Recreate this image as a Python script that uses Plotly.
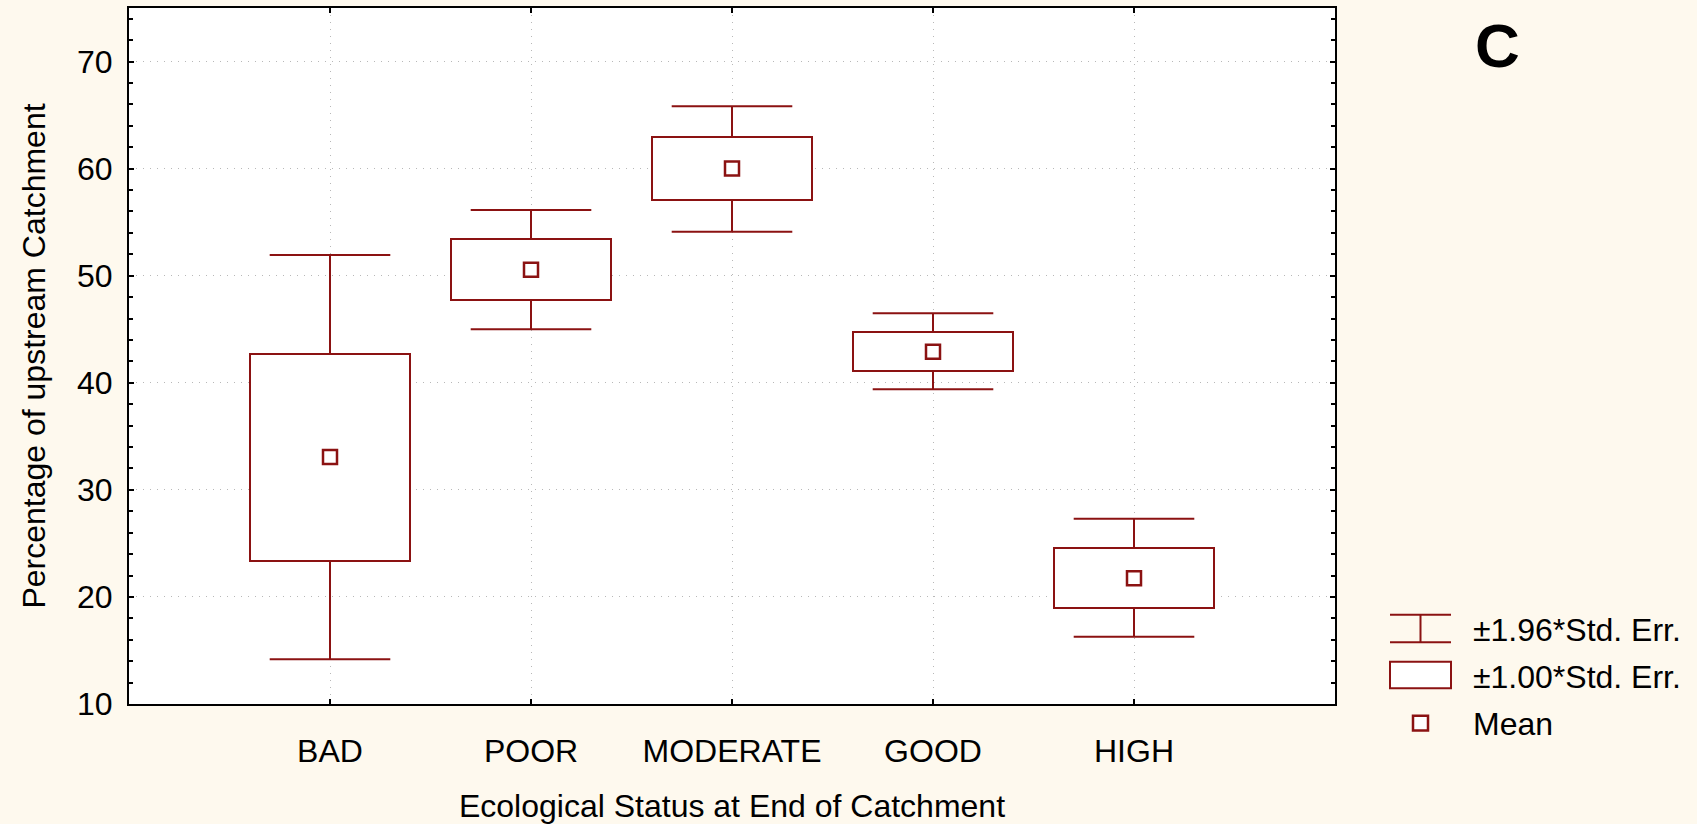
import plotly.graph_objects as go

# ---- data ----
categories = ["BAD", "POOR", "MODERATE", "GOOD", "HIGH"]
means = [33.07, 50.56, 60.0, 42.9, 21.74]
box_low = [23.39, 47.75, 57.03, 41.1, 18.96]      # mean - 1.00*SE
box_high = [42.68, 53.42, 62.95, 44.7, 24.6]      # mean + 1.00*SE
whisker_low = [14.17, 45.0, 54.1, 39.4, 16.27]    # mean - 1.96*SE
whisker_high = [51.93, 56.14, 65.82, 46.5, 27.3]  # mean + 1.96*SE
y_ticks = [10, 20, 30, 40, 50, 60, 70]

# ---- styles ----
RED = "#8B1212"
BG = "#FEF9EE"
FONT = "Liberation Sans, Arial, sans-serif"
W, H = 1697, 824
L, R, T, B = 129, 1335, 6, 715

xpos = list(range(len(categories)))

fig = go.Figure()

# boxes (+-1 SE)
fig.add_trace(go.Bar(
    x=xpos,
    y=[h - l for h, l in zip(box_high, box_low)],
    base=box_low,
    width=0.8,
    marker=dict(color="white", line=dict(color=RED, width=2)),
    hoverinfo="skip",
    showlegend=False,
))

# whiskers (+-1.96 SE)
wx, wy = [], []
cap = 0.3
for i in xpos:
    wx += [i, i, None, i - cap, i + cap, None]
    wy += [box_high[i], whisker_high[i], None, whisker_high[i], whisker_high[i], None]
    wx += [i, i, None, i - cap, i + cap, None]
    wy += [box_low[i], whisker_low[i], None, whisker_low[i], whisker_low[i], None]
fig.add_trace(go.Scatter(
    x=wx, y=wy, mode="lines",
    line=dict(color=RED, width=2),
    hoverinfo="skip", showlegend=False,
))

# means
fig.add_trace(go.Scatter(
    x=xpos, y=means, mode="markers",
    marker=dict(symbol="square", size=14, color="white",
                line=dict(color=RED, width=2.5)),
    showlegend=False,
))

axis_common = dict(
    showline=True, linecolor="black", linewidth=2, mirror="allticks",
    ticks="inside", tickcolor="black", tickwidth=1.5, ticklen=5,
    showgrid=True, gridcolor="#B8B8B8", griddash="1px,6px", gridwidth=1,
    zeroline=False,
    tickfont=dict(family=FONT, size=32, color="black"),
)

fig.update_layout(
    width=W, height=H,
    paper_bgcolor=BG, plot_bgcolor="white",
    margin=dict(l=L, r=W - R, t=T, b=H - B, pad=0),
    font=dict(family=FONT, color="black"),
    bargap=0,
    xaxis=dict(
        **axis_common,
        range=[-1, 5],
        tickmode="array", tickvals=xpos, ticktext=categories,
        ticklabelstandoff=18,
        title=dict(text="Ecological Status at End of Catchment",
                   font=dict(family=FONT, size=32), standoff=26),
    ),
    yaxis=dict(
        **axis_common,
        range=[10, 75],
        tickmode="array", tickvals=y_ticks,
        ticklabelstandoff=8,
        minor=dict(dtick=2, ticks="inside", ticklen=4, tickcolor="black",
                   showgrid=False),
        title=dict(text="Percentage of upstream Catchment",
                   font=dict(family=FONT, size=32), standoff=22),
    ),
)

# ---- custom legend (decoration in paper coordinates) ----
def px(xp):
    return (xp - L) / (R - L)

def py(yp):
    return (B - yp) / (B - T)

shapes = []
for yy in (624, 652):
    shapes.append(dict(type="line", xref="paper", yref="paper",
                       x0=px(1390), x1=px(1451), y0=py(yy), y1=py(yy),
                       line=dict(color=RED, width=2)))
shapes.append(dict(type="line", xref="paper", yref="paper",
                   x0=px(1420.5), x1=px(1420.5), y0=py(624), y1=py(652),
                   line=dict(color=RED, width=2)))
shapes.append(dict(type="rect", xref="paper", yref="paper",
                   x0=px(1390), x1=px(1451), y0=py(672), y1=py(699),
                   fillcolor="white", line=dict(color=RED, width=2)))
shapes.append(dict(type="rect", xref="paper", yref="paper",
                   x0=px(1413), x1=px(1428), y0=py(727), y1=py(742),
                   fillcolor="white", line=dict(color=RED, width=2.5)))
fig.update_layout(shapes=shapes)

legend_texts = [("±1.96*Std. Err.", 640), ("±1.00*Std. Err.", 688), ("Mean", 735)]
for txt, yy in legend_texts:
    fig.add_annotation(xref="paper", yref="paper", x=px(1471), y=py(yy),
                       text=txt, showarrow=False, xanchor="left", yanchor="middle",
                       font=dict(family=FONT, size=32, color="black"))

fig.add_annotation(xref="paper", yref="paper", x=px(1497), y=py(44),
                   text="<b>C</b>", showarrow=False, xanchor="center", yanchor="middle",
                   font=dict(family=FONT, size=62, color="black"))

fig.write_html(
    "out.html",
    config={"displayModeBar": False},
    post_script="document.body.style.margin='0';document.body.style.overflow='hidden';",
)
